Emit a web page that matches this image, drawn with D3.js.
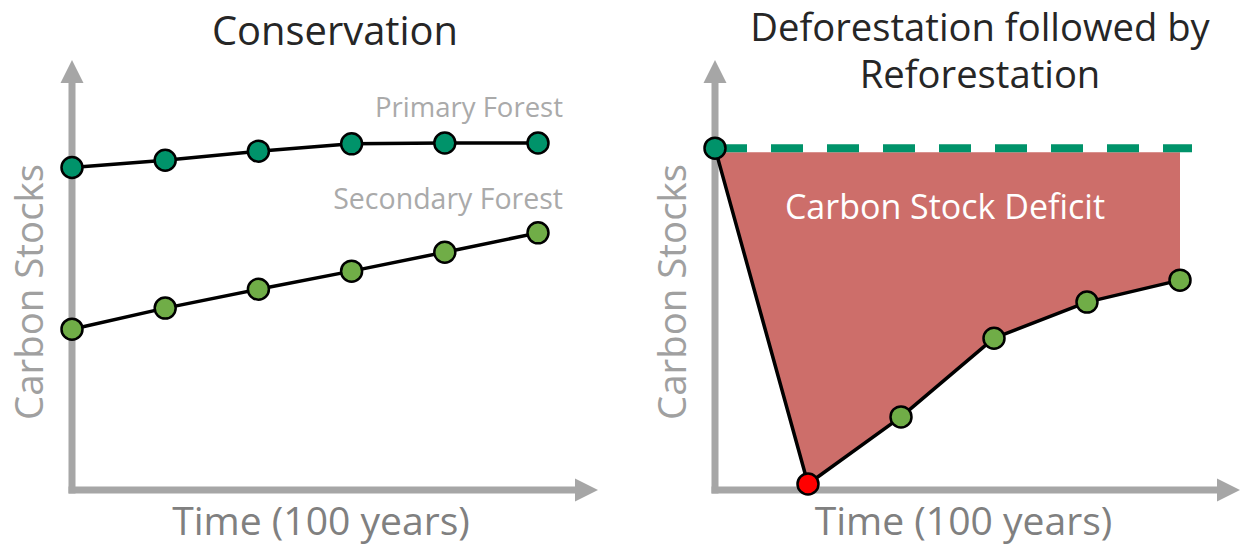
<!DOCTYPE html>
<html>
<head>
<meta charset="utf-8">
<script src="https://cdn.jsdelivr.net/npm/d3@7"></script>
<style>
	body { margin: 0; background: #fff; }
	svg { display: block; font-family: "Open Sans", sans-serif; }
</style>
</head>
<body>
<div id="graphic"></div>
<script>
// Data (carbon stocks on an arbitrary 0-100 scale)
const timeSteps = [0, 1, 2, 3, 4, 5];
const primaryForest = [75.0, 76.7, 78.8, 80.5, 80.7, 80.7];
const secondaryForest = [37.4, 42.3, 46.7, 50.9, 55.3, 59.8];
const reforestation = [79.5, 1.4, 17.0, 35.3, 43.7, 48.8];
const reforestationStage = ["primary", "cleared", "secondary", "secondary", "secondary", "secondary"];
const primaryLevel = 79.5;

const titles = [["Conservation"], ["Deforestation followed by", "Reforestation"]];
const yAxisLabel = "Carbon Stocks";
const xAxisLabel = "Time (100 years)";

const colours = {
	primary: "#00936a",
	secondary: "#70ad47",
	cleared: "#ff0000",
	deficit: "#cd6e6a",
	axis: "#a6a6a6",
	title: "#262626"
};

const width = 1247, height = 545;

const svg = d3.select('#graphic').append('svg')
	.attr('width', width)
	.attr('height', height);

const y = d3.scaleLinear().domain([0, 100]).range([490, 60]);

// shrink/grow font so the text covers the width of the original lettering
function fitWidth(sel, target) {
	const w = sel.node().getComputedTextLength();
	const fs = parseFloat(sel.attr('font-size'));
	sel.attr('font-size', (fs * target / w).toFixed(1));
}

function drawAxes(g, x) {
	const x0 = x.range()[0], xEnd = x.range()[1] + 60;
	const yTop = y.range()[1], yBottom = y.range()[0];
	const head = 23, half = 11.5, sw = 7;

	g.append('line')
		.attr('x1', x0).attr('x2', x0)
		.attr('y1', yBottom + sw / 2).attr('y2', yTop + head - 1)
		.attr('stroke', colours.axis).attr('stroke-width', sw);
	g.append('path')
		.attr('d', `M${x0},${yTop}L${x0 + half},${yTop + head}L${x0 - half},${yTop + head}Z`)
		.attr('fill', colours.axis);

	g.append('line')
		.attr('x1', x0 - sw / 2).attr('x2', xEnd - head + 1)
		.attr('y1', yBottom).attr('y2', yBottom)
		.attr('stroke', colours.axis).attr('stroke-width', sw);
	g.append('path')
		.attr('d', `M${xEnd},${yBottom}L${xEnd - head},${yBottom - half}L${xEnd - head},${yBottom + half}Z`)
		.attr('fill', colours.axis);

	// axis labels
	const yl = g.append('text')
		.attr('transform', `translate(${x0 - 29},${292}) rotate(-90)`)
		.attr('text-anchor', 'middle')
		.attr('font-size', 32)
		.attr('fill', '#a0a0a0')
		.text(yAxisLabel);
	fitWidth(yl, 256);

	const xl = g.append('text')
		.attr('x', (x0 + xEnd) / 2 - 14)
		.attr('y', 535)
		.attr('text-anchor', 'middle')
		.attr('font-size', 34)
		.attr('fill', '#808080')
		.text(xAxisLabel);
	fitWidth(xl, 298);
}

function drawTitle(g, lines, cx, baseline) {
	let fs;
	lines.forEach((t, i) => {
		const tt = g.append('text')
			.attr('x', cx)
			.attr('y', baseline + i * 47)
			.attr('text-anchor', 'middle')
			.attr('font-size', 32)
			.attr('fill', colours.title)
			.text(t);
		if (i === 0) {
			fitWidth(tt, lines.length > 1 ? 460 : 246);
			fs = tt.attr('font-size');
		} else tt.attr('font-size', fs);
	});
}

const line = (x, values) => d3.line()
	.x((d, i) => x(timeSteps[i]))
	.y(d => y(d))(values);

function drawPoints(g, x, values, colourFor) {
	g.selectAll(null)
		.data(values)
		.join('circle')
		.attr('cx', (d, i) => x(timeSteps[i]))
		.attr('cy', d => y(d))
		.attr('r', 10.5)
		.attr('fill', (d, i) => colourFor(i))
		.attr('stroke', '#000')
		.attr('stroke-width', 2.5);
}

// ---- left panel: conservation ----
const xLeft = d3.scaleLinear().domain(d3.extent(timeSteps)).range([72, 538]);
const left = svg.append('g');
drawAxes(left, xLeft);
drawTitle(left, titles[0], 335, 45);

[primaryForest, secondaryForest].forEach(series => {
	left.append('path')
		.attr('d', line(xLeft, series))
		.attr('fill', 'none')
		.attr('stroke', '#000')
		.attr('stroke-width', 3.5);
});
drawPoints(left, xLeft, primaryForest, () => colours.primary);
drawPoints(left, xLeft, secondaryForest, () => colours.secondary);

const seriesLabels = [["Primary Forest", primaryForest, 188, 26], ["Secondary Forest", secondaryForest, 230, 24]];
seriesLabels.forEach(([name, series, w, dy]) => {
	const t = left.append('text')
		.attr('x', xLeft(5) + 25)
		.attr('y', y(d3.max(series)) - dy)
		.attr('text-anchor', 'end')
		.attr('font-size', 24)
		.attr('fill', '#aaaaaa')
		.text(name);
	fitWidth(t, w);
});

// ---- right panel: deforestation then reforestation ----
const xRight = d3.scaleLinear().domain(d3.extent(timeSteps)).range([715, 1180]);
const right = svg.append('g');

right.append('path')
	.datum(reforestation)
	.attr('d', d3.area()
		.x((d, i) => xRight(timeSteps[i]))
		.y0(y(primaryLevel) + 4)
		.y1(d => y(d)))
	.attr('fill', colours.deficit);

drawAxes(right, xRight);
drawTitle(right, titles[1], 980, 41);

right.append('line')
	.attr('x1', xRight(0)).attr('x2', xRight(5) + 12)
	.attr('y1', y(primaryLevel)).attr('y2', y(primaryLevel))
	.attr('stroke', colours.primary)
	.attr('stroke-width', 8)
	.attr('stroke-dasharray', '32,24');

const deficitLabel = right.append('text')
	.attr('x', 945)
	.attr('y', 219)
	.attr('text-anchor', 'middle')
	.attr('font-size', 28)
	.attr('fill', '#fff')
	.text("Carbon Stock Deficit");
fitWidth(deficitLabel, 320);

right.append('path')
	.attr('d', line(xRight, reforestation))
	.attr('fill', 'none')
	.attr('stroke', '#000')
	.attr('stroke-width', 3.5)
	.attr('stroke-linejoin', 'round');
drawPoints(right, xRight, reforestation, i => colours[reforestationStage[i]]);
</script>
</body>
</html>
